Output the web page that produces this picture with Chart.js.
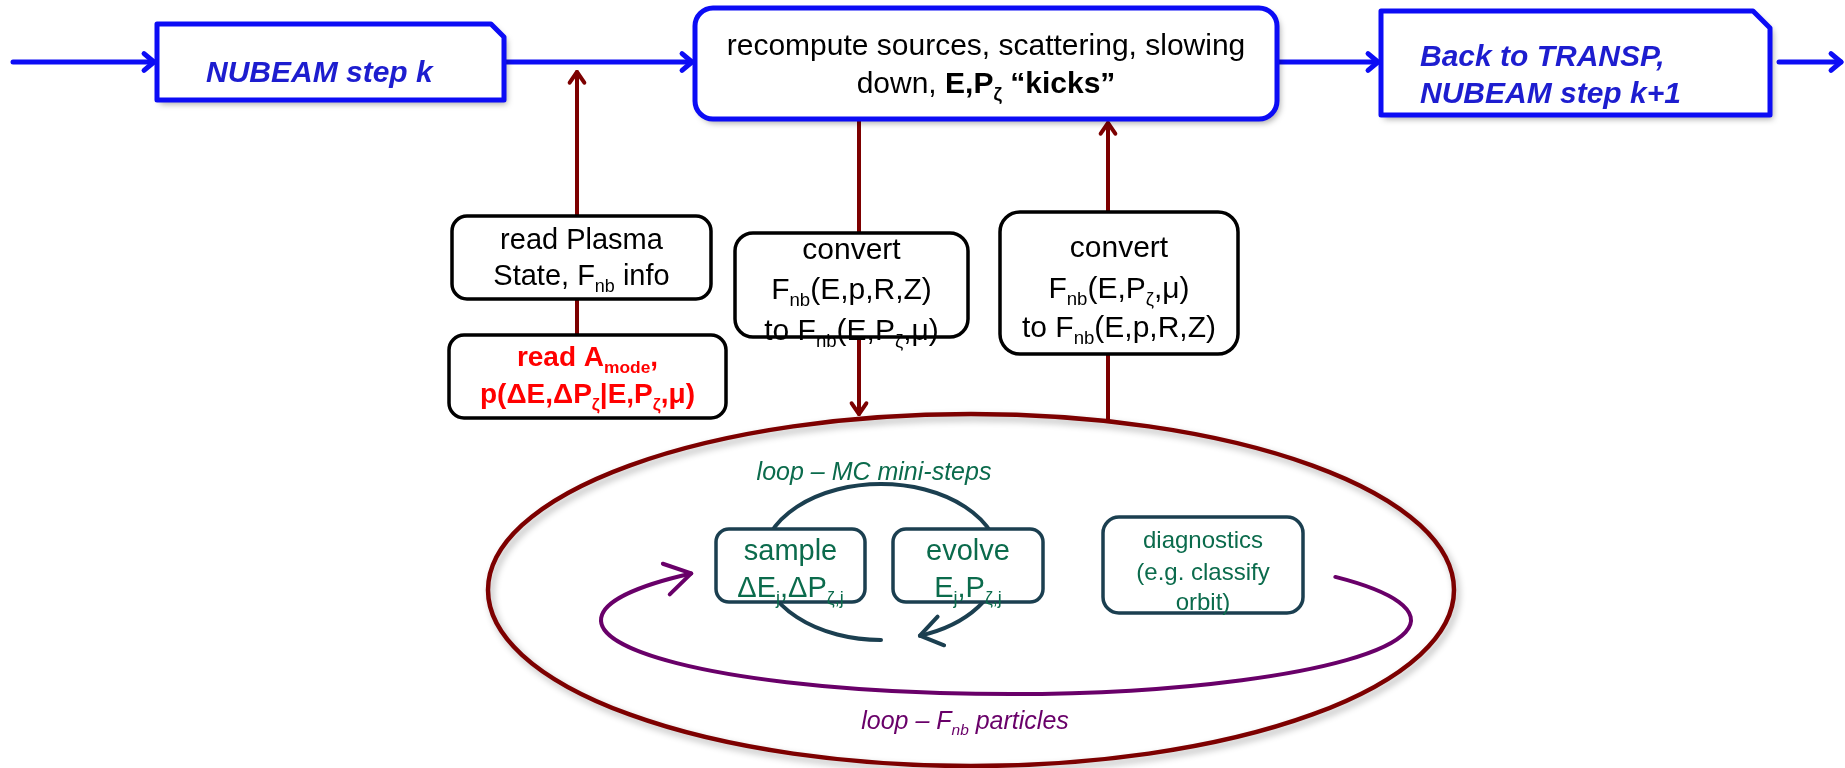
<!DOCTYPE html>
<html>
<head>
<meta charset="utf-8">
<script src="https://cdn.jsdelivr.net/npm/chart.js@4.4.1/dist/chart.umd.min.js"></script>
<style>
html,body{margin:0;padding:0;background:#fff;}
#wrap{width:1845px;height:768px;position:relative;}
</style>
</head>
<body>
<div id="wrap"><canvas id="flow"></canvas></div>
<script>
// box texts  (*...* = bold, _{...} = subscript)
const stepLabels = [['NUBEAM step k'], ['Back to TRANSP,', 'NUBEAM step k+1']];
const kickLabel = ['recompute sources, scattering, slowing', 'down, *E,P_{ζ} “kicks”*'];
const readLabels = [['read Plasma', 'State, F_{nb} info'], ['*read A_{mode},*', '*p(ΔE,ΔP_{ζ}|E,P_{ζ},μ)*']];
const convertLabels = [['convert', 'F_{nb}(E,p,R,Z)', 'to F_{nb}(E,P_{ζ},μ)'], ['convert', 'F_{nb}(E,P_{ζ},μ)', 'to F_{nb}(E,p,R,Z)']];
const miniLabels = [['sample', 'ΔE_{j},ΔP_{ζ,j}'], ['evolve', 'E_{j},P_{ζ,j}'], ['diagnostics', '(e.g. classify', 'orbit)']];
const loopLabels = ['loop – MC mini-steps', 'loop – F_{nb} particles'];

// layout, in axis units (x 0..1845, y 0..768 from top)
const L = {
  flowY: 62,
  stepBox: [[157, 24, 504, 100, 13], [1381, 11, 1770, 115, 17]],
  kickBox: [695, 8, 1277, 119, 18],
  readBox: [[452, 216, 711, 299], [449, 335, 726, 418]],
  convBox: [[735, 233, 968, 337], [1000, 212, 1238, 354]],
  miniBox: [[716, 529, 865, 602], [893, 529, 1043, 602], [1103, 517, 1303, 613]],
  outer: [971, 590, 483, 176],
  particles: [1006, 620, 405, 74, -35.6, 219],
  mini: [881, 562, 119, 78, 90, 430.9]
};

const BLUE = '#0c0cf5', BLUE_TXT = '#1d1dcf', MAROON = '#7d0000', PURPLE = '#690069',
      SLATE = '#1b3f50', TEAL = '#0b6b4c';
const FONT = '"Liberation Sans", Arial, sans-serif';

function parseRich(str) {
  const segs = [];
  let bold = false, buf = '', i = 0;
  const push = (t, sub) => { if (t) segs.push({ t, bold, sub }); };
  while (i < str.length) {
    const c = str[i];
    if (c === '*') { push(buf, false); buf = ''; bold = !bold; i++; }
    else if (c === '_' && str[i + 1] === '{') {
      push(buf, false); buf = '';
      const j = str.indexOf('}', i);
      push(str.slice(i + 2, j), true);
      i = j + 1;
    } else { buf += c; i++; }
  }
  push(buf, false);
  return segs;
}

function drawRich(ctx, str, x, y, o) {
  const segs = parseRich(str);
  const font = (s) => (o.italic ? 'italic ' : '') + ((s.bold || o.bold) ? 'bold ' : '') +
    (s.sub ? o.size * 0.62 : o.size) + 'px ' + FONT;
  let w = 0;
  segs.forEach(s => { ctx.font = font(s); s.w = ctx.measureText(s.t).width; w += s.w; });
  let cx = o.align === 'left' ? x : x - w / 2;
  ctx.fillStyle = o.color;
  ctx.textAlign = 'left';
  ctx.textBaseline = 'alphabetic';
  segs.forEach(s => {
    ctx.font = font(s);
    ctx.fillText(s.t, cx, s.sub ? y + o.size * 0.24 : y);
    cx += s.w;
  });
}

function chevron(ctx, tx, ty, dx, dy, len, ang) {
  const a = Math.atan2(dy, dx);
  ctx.beginPath();
  ctx.moveTo(tx - len * Math.cos(a - ang), ty - len * Math.sin(a - ang));
  ctx.lineTo(tx, ty);
  ctx.lineTo(tx - len * Math.cos(a + ang), ty - len * Math.sin(a + ang));
  ctx.stroke();
}

const flowPlugin = {
  id: 'flow',
  afterDraw(chart) {
    const ctx = chart.ctx, sx = chart.scales.x, sy = chart.scales.y;
    const X = v => sx.getPixelForValue(v), Y = v => sy.getPixelForValue(v);
    const deg = Math.PI / 180;
    ctx.save();
    ctx.lineCap = 'round';
    ctx.lineJoin = 'round';

    const rbox = (b, r, stroke, lw, shadow) => {
      const x0 = X(b[0]), y0 = Y(b[1]), x1 = X(b[2]), y1 = Y(b[3]);
      ctx.save();
      ctx.beginPath();
      ctx.roundRect(x0, y0, x1 - x0, y1 - y0, r);
      if (shadow) {
        ctx.shadowColor = 'rgba(0,0,0,0.35)'; ctx.shadowBlur = 6;
        ctx.shadowOffsetX = 3; ctx.shadowOffsetY = 4;
      }
      ctx.fillStyle = '#fff';
      ctx.fill();
      ctx.shadowColor = 'transparent';
      ctx.strokeStyle = stroke; ctx.lineWidth = lw;
      ctx.stroke();
      ctx.restore();
    };
    const lines = (arr, b, ys, o) => arr.forEach((t, i) => drawRich(ctx, t, X((b[0] + b[2]) / 2), Y(ys[i]), o));

    // outer loop ellipse
    const oe = L.outer;
    ctx.save();
    ctx.shadowColor = 'rgba(0,0,0,0.3)'; ctx.shadowBlur = 7;
    ctx.shadowOffsetX = 3; ctx.shadowOffsetY = 4;
    ctx.strokeStyle = MAROON; ctx.lineWidth = 4.5;
    ctx.beginPath();
    ctx.ellipse(X(oe[0]), Y(oe[1]), X(oe[0] + oe[2]) - X(oe[0]), Y(oe[1] + oe[3]) - Y(oe[1]), 0, 0, 2 * Math.PI);
    ctx.stroke();
    ctx.restore();

    // loop over particles / mini steps: open elliptical arcs ending in an arrow
    const loopArc = (e, color, lw, len, ang) => {
      const cx = X(e[0]), cy = Y(e[1]), rx = X(e[0] + e[2]) - cx, ry = Y(e[1] + e[3]) - cy;
      const t0 = e[4] * deg, t1 = e[5] * deg;
      ctx.strokeStyle = color; ctx.lineWidth = lw;
      ctx.beginPath();
      ctx.ellipse(cx, cy, rx, ry, 0, t0, t1);
      ctx.stroke();
      const tx = cx + rx * Math.cos(t1), ty = cy + ry * Math.sin(t1);
      chevron(ctx, tx, ty, -rx * Math.sin(t1), ry * Math.cos(t1), len, ang);
    };
    loopArc(L.particles, PURPLE, 4, 30, 0.55);
    loopArc(L.mini, SLATE, 4, 26, 0.6);

    // inner boxes
    L.miniBox.forEach((b, i) => {
      rbox(b, i === 2 ? 16 : 13, SLATE, 3.5, false);
    });
    lines(miniLabels[0], L.miniBox[0], [560, 597], { size: 29, color: TEAL });
    lines(miniLabels[1], L.miniBox[1], [560, 597], { size: 29, color: TEAL });
    lines(miniLabels[2], L.miniBox[2], [548, 580, 610], { size: 24, color: TEAL });
    drawRich(ctx, loopLabels[0], X(874), Y(480), { size: 25, color: TEAL, italic: true });
    drawRich(ctx, loopLabels[1], X(965), Y(729), { size: 25, color: PURPLE, italic: true });

    // maroon vertical connectors
    ctx.strokeStyle = MAROON; ctx.lineWidth = 4;
    const vArrow = (x, yFrom, yTip) => {
      ctx.beginPath(); ctx.moveTo(X(x), Y(yFrom)); ctx.lineTo(X(x), Y(yTip)); ctx.stroke();
      chevron(ctx, X(x), Y(yTip), 0, Y(yTip) - Y(yFrom), 13, 0.6);
    };
    vArrow(577, 335, 72);
    vArrow(859, 119, 414);
    vArrow(1108, 421, 123);

    // blue main flow
    ctx.strokeStyle = BLUE; ctx.lineWidth = 5;
    const hArrow = (x0, x1) => {
      ctx.beginPath(); ctx.moveTo(X(x0), Y(L.flowY)); ctx.lineTo(X(x1), Y(L.flowY)); ctx.stroke();
      chevron(ctx, X(x1), Y(L.flowY), 1, 0, 13, 0.7);
    };
    hArrow(13, 154);
    hArrow(504, 692);
    hArrow(1277, 1378);
    hArrow(1779, 1841);

    // step boxes with folded corner
    L.stepBox.forEach(b => {
      const x0 = X(b[0]), y0 = Y(b[1]), x1 = X(b[2]), y1 = Y(b[3]), d = b[4];
      ctx.save();
      ctx.beginPath();
      ctx.moveTo(x0, y0); ctx.lineTo(x1 - d, y0); ctx.lineTo(x1, y0 + d);
      ctx.lineTo(x1, y1); ctx.lineTo(x0, y1); ctx.closePath();
      ctx.shadowColor = 'rgba(0,0,0,0.35)'; ctx.shadowBlur = 6;
      ctx.shadowOffsetX = 3; ctx.shadowOffsetY = 4;
      ctx.fillStyle = '#fff'; ctx.fill();
      ctx.shadowColor = 'transparent';
      ctx.strokeStyle = BLUE; ctx.lineWidth = 5; ctx.stroke();
      ctx.restore();
    });
    drawRich(ctx, stepLabels[0][0], X(206), Y(82), { size: 30, color: BLUE_TXT, bold: true, italic: true, align: 'left' });
    drawRich(ctx, stepLabels[1][0], X(1420), Y(66), { size: 30, color: BLUE_TXT, bold: true, italic: true, align: 'left' });
    drawRich(ctx, stepLabels[1][1], X(1420), Y(103), { size: 30, color: BLUE_TXT, bold: true, italic: true, align: 'left' });

    rbox(L.kickBox, 18, BLUE, 5, true);
    lines(kickLabel, L.kickBox, [55, 93], { size: 30, color: '#000' });

    // black boxes
    rbox(L.readBox[0], 15, '#000', 3.5, false);
    lines(readLabels[0], L.readBox[0], [249, 285], { size: 29, color: '#000' });
    rbox(L.readBox[1], 15, '#000', 3.5, false);
    lines(readLabels[1], L.readBox[1], [366, 403], { size: 28, color: '#ff0000' });
    rbox(L.convBox[0], 18, '#000', 3.5, false);
    lines(convertLabels[0], L.convBox[0], [259, 299, 340], { size: 30, color: '#000' });
    rbox(L.convBox[1], 20, '#000', 3.5, false);
    lines(convertLabels[1], L.convBox[1], [257, 298, 337], { size: 30, color: '#000' });

    ctx.restore();
  }
};

new Chart(document.getElementById('flow'), {
  type: 'scatter',
  data: { datasets: [{ data: [], pointRadius: 0 }] },
  options: {
    responsive: true,
    maintainAspectRatio: false,
    animation: false,
    events: [],
    layout: { padding: 0 },
    plugins: { legend: { display: false }, tooltip: { enabled: false } },
    scales: {
      x: { type: 'linear', min: 0, max: 1845, display: false },
      y: { type: 'linear', min: 0, max: 768, reverse: true, display: false }
    }
  },
  plugins: [flowPlugin]
});
</script>
</body>
</html>
